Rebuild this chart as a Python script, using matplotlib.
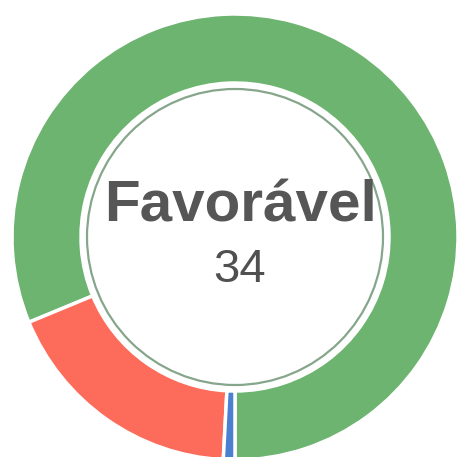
import matplotlib
matplotlib.use("Agg")
import matplotlib.pyplot as plt
from matplotlib.patches import Circle

# Data
categories = ["Favorável", "Desfavorável", "Neutro"]
values = [34, 7.5, 0.35]
colors = ["#6cb46f", "#fd6b5a", "#4a80cf"]
center_label = "Favorável"
center_value = "34"

W, H = 466, 457
fig = plt.figure(figsize=(W / 100, H / 100), dpi=100)
ax = fig.add_axes([0, 0, 1, 1])

cx, cy = 235, H - 237
R = 223
ring = 69

ax.pie(values, colors=colors, startangle=-90, counterclock=True,
       center=(cx, cy), radius=R,
       wedgeprops=dict(width=ring, edgecolor="white", linewidth=2.5))

ax.add_patch(Circle((cx, cy), 148, fill=False, edgecolor="#86a68c", linewidth=1.6))

ax.text(241, H - 222, center_label, ha="center", va="baseline",
        fontsize=42, fontweight="bold", color="#565656", family="Liberation Sans")
ax.text(240, H - 282, center_value, ha="center", va="baseline",
        fontsize=34, color="#505050", family="Liberation Sans")

ax.set_xlim(0, W)
ax.set_ylim(0, H)
ax.set_aspect("equal")
ax.axis("off")
fig.savefig("out.png", dpi=100, facecolor="white")
